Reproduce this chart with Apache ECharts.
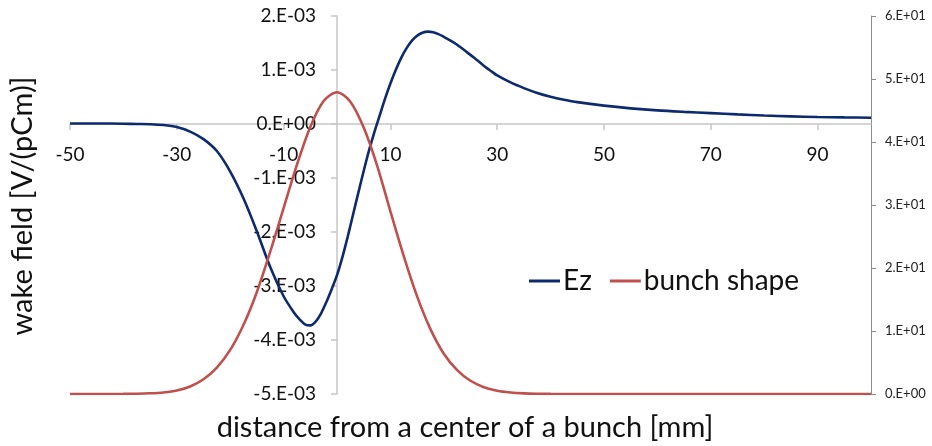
<!DOCTYPE html>
<html>
<head>
<meta charset="utf-8">
<script src="https://cdn.jsdelivr.net/npm/echarts@6/dist/echarts.min.js"></script>
<style>html,body{margin:0;padding:0;background:#fff}#c{width:932px;height:446px}</style>
</head>
<body>
<div id="c"></div>
<script>
// Ez: distance from bunch center [mm] and wake field [V/(pCm)]
var ezDistance = [-50,-45,-40,-37.5,-35,-32.5,-30,-27.5,-25,-22.5,-20,-17.5,-15,-12.5,-10,-8,-7,-6,-5,-4,-3,-2,-1,0,1,2,3,4,5,6,7,8,9,10,11,12,13,14,15,16,17,18,19,20,21,22,23,24,25,26,27,28,29,30,32.5,35,37.5,40,42.5,45,50,55,60,65,70,75,80,85,90,95,100];
var ez = [0.00001,0.00001,0.000005,0,-0.000005,-0.00002,-0.000056,-0.00014,-0.00028,-0.0005,-0.00088,-0.00138,-0.00199,-0.00265,-0.00319,-0.0035,-0.00362,-0.00371,-0.00373,-0.00366,-0.00351,-0.0033,-0.00306,-0.0028,-0.00247,-0.00209,-0.00168,-0.00127,-0.00087,-0.00049,-0.00015,0.00016,0.00047,0.00075,0.001,0.00122,0.0014,0.00154,0.001635,0.00169,0.00171,0.0017,0.001665,0.001615,0.00156,0.0015,0.00143,0.001355,0.00128,0.0012,0.00112,0.00104,0.00097,0.0009,0.00077,0.000665,0.000575,0.000505,0.00045,0.000405,0.00034,0.00029,0.000252,0.000225,0.000202,0.000178,0.000157,0.000142,0.00013,0.000122,0.000117];
// bunch shape (secondary axis)
var bunchDistance = [-50,-45,-40,-37.5,-35,-32.5,-30,-27.5,-25,-22.5,-20,-17.5,-15,-12.5,-10,-7.5,-5,-2.5,0,2.5,5,7.5,10,12.5,15,17.5,20,22.5,25,27.5,30,32.5,35,37.5,40,45,50,60,70,80,90,100];
var bunch = [0,0,0.02,0.045,0.11,0.25,0.55,1.2,2.35,4.2,7.0,11.0,16.2,22.6,29.5,36.4,42.4,46.5,47.9,46.4,42.3,36.3,29.0,21.9,15.5,10.3,6.4,3.8,2.1,1.08,0.52,0.24,0.1,0.04,0.015,0,0,0,0,0,0,0];
// tick values and labels
var xTicks = [-50,-30,-10,10,30,50,70,90];
var leftTicks = [-0.005,-0.004,-0.003,-0.002,-0.001,0,0.001,0.002];
var leftLabels = ['-5.E-03','-4.E-03','-3.E-03','-2.E-03','-1.E-03','0.E+00','1.E-03','2.E-03'];
var rightTicks = [0,10,20,30,40,50,60];
var rightLabels = ['0.E+00','1.E+01','2.E+01','3.E+01','4.E+01','5.E+01','6.E+01'];

var X_MIN = -50, X_MAX = 100, L_MIN = -0.005, L_MAX = 0.002, R_MIN = 0, R_MAX = 60;

function lookup(ticks, labels, v){
  var step = Math.abs(ticks[1]-ticks[0]);
  for (var i=0;i<ticks.length;i++){ if (Math.abs(ticks[i]-v) < step*1e-6) return labels[i]; }
  return '';
}
function pairs(xs, ys){ return xs.map(function(x,i){return [x, ys[i]];}); }

var FONT = 'Lato, "Open Sans", sans-serif';
var LIGHT = '#C6C6C6', DARK = '#8C8C8C';

// plot area geometry
var G = {left:70, right:61, top:16, bottom:52};
var W = 932 - G.left - G.right, H = 446 - G.top - G.bottom;
var x0px = G.left + (0 - X_MIN) / (X_MAX - X_MIN) * W;      // where x = 0
var y0px = G.top + (L_MAX - 0) / (L_MAX - L_MIN) * H;        // where Ez = 0

var chart = echarts.init(document.getElementById('c'), null, {renderer:'canvas'});
chart.setOption({
  animation:false,
  backgroundColor:'#fff',
  grid:[
    {left:G.left, right:G.right, top:G.top, bottom:G.bottom, outerBoundsMode:'none', containLabel:false},
    {left:x0px, right:G.right, top:G.top, bottom:G.bottom, outerBoundsMode:'none', containLabel:false},
    {left:G.left, right:G.right, top:G.top, bottom:446 - y0px, outerBoundsMode:'none', containLabel:false}
  ],
  xAxis:[
    {gridIndex:0, type:'value', min:X_MIN, max:X_MAX, show:false},
    {gridIndex:1, type:'value', min:0, max:1, show:false},
    {gridIndex:2, type:'value', min:X_MIN, max:X_MAX, position:'bottom',
      axisLine:{show:true, onZero:false, lineStyle:{color:LIGHT, width:1.5}},
      axisTick:{show:true, length:6, customValues:xTicks, lineStyle:{color:LIGHT, width:1.5}},
      axisLabel:{customValues:xTicks, margin:21, fontSize:19, color:'#111', fontFamily:FONT},
      splitLine:{show:false}}
  ],
  yAxis:[
    {gridIndex:0, type:'value', min:L_MIN, max:L_MAX, show:false},
    {gridIndex:0, type:'value', min:R_MIN, max:R_MAX, interval:10, position:'right',
      axisLine:{show:true, onZero:false, lineStyle:{color:DARK, width:1}},
      axisTick:{show:true, length:5, lineStyle:{color:DARK, width:1}},
      axisLabel:{margin:14, fontSize:13, color:'#222', fontFamily:FONT,
        formatter:function(v){return lookup(rightTicks,rightLabels,v);}},
      splitLine:{show:false}},
    {gridIndex:1, type:'value', min:L_MIN, max:L_MAX, interval:0.001, position:'left',
      axisLine:{show:true, onZero:false, lineStyle:{color:LIGHT, width:1.5}},
      axisTick:{show:true, length:6, lineStyle:{color:LIGHT, width:1.5}},
      axisLabel:{margin:21, fontSize:19, color:'#111', fontFamily:FONT,
        formatter:function(v){return lookup(leftTicks,leftLabels,v);}},
      splitLine:{show:false}},
    {gridIndex:2, type:'value', min:0, max:1, show:false}
  ],
  legend:{
    left:524, top:262, icon:'rect', itemWidth:31, itemHeight:3, itemGap:18,
    textStyle:{fontSize:28, color:'#111', fontFamily:FONT, padding:[0,0,0,-2]},
    data:['Ez','bunch shape']
  },
  series:[{
    name:'Ez', type:'line', xAxisIndex:0, yAxisIndex:0, smooth:0.3, symbol:'none',
    lineStyle:{color:'#0E2A6E', width:2.6}, itemStyle:{color:'#0E2A6E'},
    data:pairs(ezDistance, ez)
  },{
    name:'bunch shape', type:'line', xAxisIndex:0, yAxisIndex:1, smooth:0.3, symbol:'none',
    lineStyle:{color:'#C0504D', width:2.6}, itemStyle:{color:'#C0504D'},
    data:pairs(bunchDistance, bunch)
  }],
  graphic:[{
    type:'text', x:465, y:428,
    style:{text:'distance from a center of a bunch [mm]', font:'29px '+FONT, fill:'#111', align:'center', verticalAlign:'middle'}
  },{
    type:'text', rotation:Math.PI/2, x:23, y:206,
    style:{text:'wake field [V/(pCm)]', font:'29px '+FONT, fill:'#111', align:'center', verticalAlign:'middle'}
  }]
});
</script>
</body>
</html>
